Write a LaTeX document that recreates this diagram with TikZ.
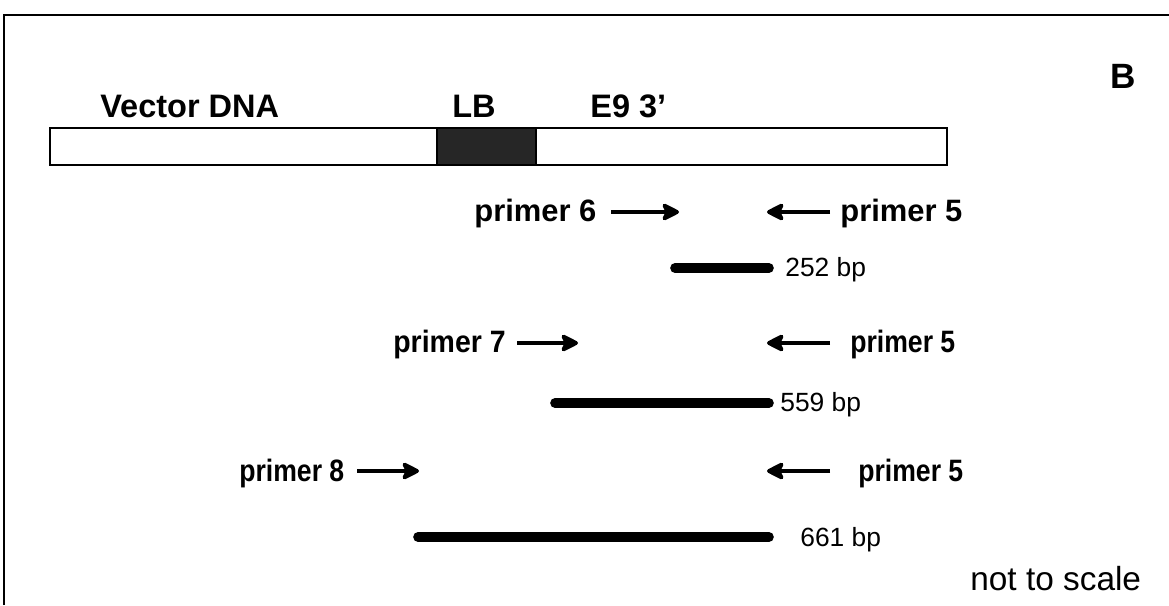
\documentclass[tikz,border=0pt]{standalone}
\usepackage{fontspec}
\setmainfont{Liberation Sans}
\usetikzlibrary{arrows.meta}

\newcommand{\narrow}[2][0.86]{\scalebox{#1}[1]{#2}}

\begin{document}
\begin{tikzpicture}
            [x=0.02cm,y=-0.02cm,
            lbl/.style={font=\bfseries\fontsize{17.6}{20}\selectfont,inner sep=0pt,anchor=west},
            head/.style={font=\bfseries\fontsize{18.5}{21}\selectfont,inner sep=0pt,anchor=west},
            bp/.style={font=\fontsize{15}{18}\selectfont,inner sep=0pt,anchor=west},
            primer/.style={line width=2.7pt,-{Stealth[length=12pt,width=12pt,inset=3pt,round]}},
            product/.style={line width=5.5pt,line cap=round}]
            \useasboundingbox (0,0) rectangle (1169,605);
            % frame
            \draw[line width=1.1pt] (4,605) -- (4,15) -- (1175,15);
            \node[font=\bfseries\fontsize{20}{24}\selectfont,inner sep=0pt] (panel) at (1123,76) {B};
            % construct
            \node[head] (vector) at (100,106) {Vector DNA};
            \node[head] (lb) at (452,106) {LB};
            \node[head] (e9) at (590,106) {E9 3'};
            \fill[black!85] (437,128) rectangle (536,165);
            \draw[line width=1.1pt] (50,128) rectangle (947,165);
            \draw[line width=1.1pt] (437,128) -- (437,165) (536,128) -- (536,165);
            % primer pair 6/5
            \node[lbl] (p6) at (474,214) {primer 6};
            \coordinate (p6s) at (611,212); \coordinate (p6e) at (679,212);
            \coordinate (p5as) at (830,212); \coordinate (p5ae) at (767,212);
            \node[lbl] (p5a) at (840,214) {primer 5};
            \draw[primer] (p6s) -- (p6e);
            \draw[primer] (p5as) -- (p5ae);
            \coordinate (b1s) at (675,268); \coordinate (b1e) at (769,268);
            \draw[product] (b1s) -- (b1e);
            \node[bp] (s1) at (785,270) {252 bp};
            % primer pair 7/5
            \node[lbl] (p7) at (393,345) {\narrow[0.92]{primer 7}};
            \coordinate (p7s) at (517,343); \coordinate (p7e) at (578,343);
            \coordinate (p5bs) at (830,343); \coordinate (p5be) at (767,343);
            \node[lbl] (p5b) at (850,345) {\narrow{primer 5}};
            \draw[primer] (p7s) -- (p7e);
            \draw[primer] (p5bs) -- (p5be);
            \coordinate (b2s) at (555,403); \coordinate (b2e) at (769,403);
            \draw[product] (b2s) -- (b2e);
            \node[bp] (s2) at (780,405) {559 bp};
            % primer pair 8/5
            \node[lbl] (p8) at (239,473) {\narrow{primer 8}};
            \coordinate (p8s) at (357,471); \coordinate (p8e) at (419,471);
            \coordinate (p5cs) at (830,471); \coordinate (p5ce) at (767,471);
            \node[lbl] (p5c) at (858,473) {\narrow{primer 5}};
            \draw[primer] (p8s) -- (p8e);
            \draw[primer] (p5cs) -- (p5ce);
            \coordinate (b3s) at (418,537); \coordinate (b3e) at (769,537);
            \draw[product] (b3s) -- (b3e);
            \node[bp] (s3) at (800,540) {661 bp};
            \node[font=\fontsize{19}{22}\selectfont,inner sep=0pt,anchor=west] (scale) at (970,579) {not to scale};
        \end{tikzpicture}
\end{document}
